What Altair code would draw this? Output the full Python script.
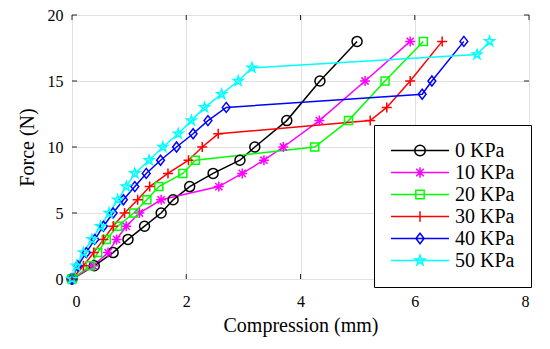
import altair as alt
import pandas as pd

# ---- data ----
series_names = ["0 KPa", "10 KPa", "20 KPa", "30 KPa", "40 KPa", "50 KPa"]
series_colors = ["#000000", "#FF00FF", "#00FF00", "#FF0000", "#0000FF", "#00FFFF"]

force_0 = [0, 1, 2, 3, 4, 5, 6, 7, 8, 9, 10, 12, 15, 18]
comp_0 = [0, 0.39, 0.72, 0.98, 1.27, 1.56, 1.77, 2.06, 2.47, 2.94, 3.20, 3.76, 4.34, 4.99]

force_10 = [0, 1, 2, 3, 4, 5, 6, 7, 8, 9, 10, 12, 15, 18]
comp_10 = [0, 0.37, 0.63, 0.78, 0.95, 1.18, 1.56, 2.57, 2.98, 3.36, 3.70, 4.33, 5.13, 5.92]

force_20 = [0, 1, 2, 3, 4, 5, 6, 7, 8, 9, 10, 12, 15, 18]
comp_20 = [0, 0.32, 0.45, 0.60, 0.80, 1.08, 1.31, 1.52, 1.94, 2.16, 4.25, 4.84, 5.48, 6.15]

force_30 = [0, 1, 2, 3, 4, 5, 6, 7, 8, 9, 10, 11, 12, 13, 15, 18]
comp_30 = [0, 0.20, 0.38, 0.55, 0.72, 0.92, 1.15, 1.36, 1.68, 2.04, 2.28, 2.56, 5.22, 5.51, 5.92, 6.48]

force_40 = [0, 1, 2, 3, 4, 5, 6, 7, 8, 9, 10, 11, 12, 13, 14, 15, 18]
comp_40 = [0, 0.10, 0.25, 0.40, 0.55, 0.72, 0.90, 1.10, 1.30, 1.55, 1.83, 2.12, 2.38, 2.70, 6.13, 6.30, 6.86]

force_50 = [0, 1, 2, 3, 4, 5, 6, 7, 8, 9, 10, 11, 12, 13, 14, 15, 16, 17, 18]
comp_50 = [0, 0.08, 0.20, 0.35, 0.50, 0.65, 0.80, 0.95, 1.10, 1.35, 1.59, 1.86, 2.09, 2.32, 2.62, 2.91, 3.15, 7.09, 7.31]

x_ticks = [0, 2, 4, 6, 8]
y_ticks = [0, 5, 10, 15, 20]

all_force = [force_0, force_10, force_20, force_30, force_40, force_50]
all_comp = [comp_0, comp_10, comp_20, comp_30, comp_40, comp_50]

rows = []
for name, fs, cs in zip(series_names, all_force, all_comp):
    for i, (f, c) in enumerate(zip(fs, cs)):
        rows.append({"series": name, "comp": c, "force": f, "idx": i})
df = pd.DataFrame(rows)

# ---- marker paths (unit square -1..1) ----
STAR = [(0, -1), (0.2245, -0.309), (0.9511, -0.309), (0.3633, 0.118), (0.5878, 0.809),
        (0, 0.382), (-0.5878, 0.809), (-0.3633, 0.118), (-0.9511, -0.309), (-0.2245, -0.309)]


def poly(pts, s):
    return "M" + "L".join(f"{x*s:.4f},{y*s:.4f}" for x, y in pts) + "Z"


def marker(kind, s=1.0):
    if kind == "circle":
        return f"M{-s},0A{s},{s} 0 1,0 {s},0A{s},{s} 0 1,0 {-s},0Z"
    if kind == "asterisk":
        d = 0.72 * s
        return f"M{-s},0L{s},0M0,{-s}L0,{s}M{-d},{-d}L{d},{d}M{-d},{d}L{d},{-d}"
    if kind == "square":
        q = 0.8 * s
        return poly([(-q, -q), (q, -q), (q, q), (-q, q)], 1)
    if kind == "plus":
        return f"M{-s},0L{s},0M0,{-s}L0,{s}"
    if kind == "diamond":
        return poly([(0, -1), (0.78, 0), (0, 1), (-0.78, 0)], s)
    if kind == "star":
        return poly(STAR, s)


kinds = ["circle", "asterisk", "square", "plus", "diamond", "star"]
plot_shapes = [marker(k, 1.0) for k in kinds]
legend_shapes = ["M-1,0L1,0" + marker(k, 0.18) for k in kinds]

FONT = "Liberation Serif, Times New Roman, DejaVu Serif, serif"
W, H = 457, 264
xscale = alt.Scale(domain=[0, 8], nice=False, zero=False)
yscale = alt.Scale(domain=[0, 20], nice=False, zero=False)
color_scale = alt.Scale(domain=series_names, range=series_colors)
XT = "Compression (mm)"
YT = "Force (N)"
xaxis = alt.Axis(values=x_ticks, format="d")
yaxis = alt.Axis(values=y_ticks, format="d")

base = alt.Chart(df)

lines = base.mark_line(strokeWidth=1.5).encode(
    x=alt.X("comp:Q", scale=xscale, title=XT, axis=xaxis),
    y=alt.Y("force:Q", scale=yscale, title=YT, axis=yaxis),
    color=alt.Color("series:N", scale=color_scale, legend=None),
    order="idx:Q",
)

points = base.mark_point(filled=False, strokeWidth=1.5, size=100, opacity=1).encode(
    x=alt.X("comp:Q", scale=xscale, title=XT, axis=xaxis),
    y=alt.Y("force:Q", scale=yscale, title=YT, axis=yaxis),
    color=alt.Color("series:N", scale=color_scale, legend=None),
    shape=alt.Shape("series:N", scale=alt.Scale(domain=series_names, range=plot_shapes), legend=None),
)

leg = alt.Legend(orient="none", legendX=302, legendY=110)
legend_layer = base.mark_point(filled=False, strokeWidth=1.5, opacity=0).encode(
    x=alt.X("comp:Q", scale=xscale, title=XT, axis=xaxis),
    y=alt.Y("force:Q", scale=yscale, title=YT, axis=yaxis),
    color=alt.Color("series:N", scale=color_scale, title=None, legend=leg),
    shape=alt.Shape("series:N", scale=alt.Scale(domain=series_names, range=legend_shapes),
                    title=None, legend=leg),
)

xt = pd.DataFrame({"t": x_ticks})
yt = pd.DataFrame({"t": y_ticks})
tk = "#262626"
ticks_bottom = alt.Chart(xt).mark_rule(color=tk, strokeWidth=1).encode(
    x=alt.X("t:Q", scale=xscale, title=XT, axis=xaxis), y=alt.value(H), y2=alt.value(H - 5))
ticks_top = alt.Chart(xt).mark_rule(color=tk, strokeWidth=1).encode(
    x=alt.X("t:Q", scale=xscale, title=XT, axis=xaxis), y=alt.value(0), y2=alt.value(5))
ticks_left = alt.Chart(yt).mark_rule(color=tk, strokeWidth=1).encode(
    y=alt.Y("t:Q", scale=yscale, title=YT, axis=yaxis), x=alt.value(0), x2=alt.value(5))
ticks_right = alt.Chart(yt).mark_rule(color=tk, strokeWidth=1).encode(
    y=alt.Y("t:Q", scale=yscale, title=YT, axis=yaxis), x=alt.value(W), x2=alt.value(W - 5))

chart = alt.layer(
    lines, points, legend_layer, ticks_bottom, ticks_top, ticks_left, ticks_right
).resolve_scale(shape="independent").resolve_legend(
    shape="independent", color="independent"
).properties(
    width=W, height=H,
    autosize=alt.AutoSizeParams(type="none"),
    padding={"left": 64, "top": 7, "right": 13, "bottom": 70},
    background="white",
).configure_view(
    stroke="#262626", strokeWidth=1
).configure_axis(
    labelFont=FONT, titleFont=FONT,
    labelFontSize=16, titleFontSize=20, titleFontWeight="normal",
    labelColor="black", titleColor="black",
    gridColor="#E0E0E0", gridWidth=1, domain=False, ticks=False,
).configure_axisX(
    labelPadding=14, titlePadding=6,
).configure_axisY(
    labelPadding=9, titlePadding=10,
).configure_legend(
    symbolSize=3364, symbolStrokeWidth=1.5,
    symbolOpacity=1, symbolFillColor="transparent",
    labelFont=FONT, labelFontSize=20,
    labelColor="black", labelOffset=5,
    strokeColor="black", fillColor="white",
    padding=16, rowPadding=1, clipHeight=19,
)

chart.save("out.html", embed_options={"renderer": "svg", "actions": False})
